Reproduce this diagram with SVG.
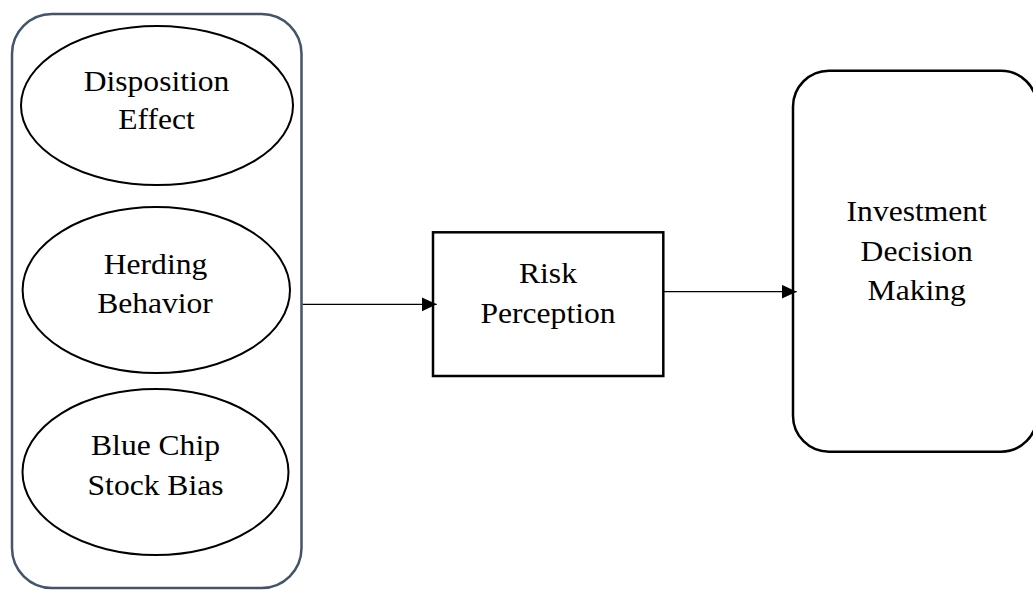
<svg xmlns="http://www.w3.org/2000/svg" width="1033" height="590" viewBox="0 0 1033 590">
<defs>
<style>
.lbl{font-family:"Liberation Serif","Times New Roman",serif;font-size:28.7px;fill:#000;text-anchor:middle}
.ell{fill:#fff;stroke:#000;stroke-width:2}
.box{fill:#fff;stroke:#000;stroke-width:2.5}
.grp{fill:#fff;stroke:#44546a;stroke-width:2.5}
.conn{stroke:#000;stroke-width:1.2;fill:none}
</style>
<marker id="arr" markerUnits="userSpaceOnUse" markerWidth="16" markerHeight="16" refX="15" refY="7" orient="auto">
<path d="M0,0 L15,7 L0,14 Z" fill="#000"/>
</marker>
</defs>
<rect width="1033" height="590" fill="#fff"/>
<g id="biases">
<rect class="grp" x="12" y="14" width="289.5" height="574" rx="40" ry="40"/>
</g>
<g id="disposition-effect">
<ellipse class="ell" cx="157" cy="105.5" rx="136" ry="79.5"/>
<text class="lbl" transform="matrix(1.1 0 0 1 156.5 90.7)">Disposition</text>
<text class="lbl" transform="matrix(1.1 0 0 1 156.5 129)">Effect</text>
</g>
<g id="herding-behavior">
<ellipse class="ell" cx="156.3" cy="290" rx="133.7" ry="83"/>
<text class="lbl" transform="matrix(1.1 0 0 1 155.5 274)">Herding</text>
<text class="lbl" transform="matrix(1.1 0 0 1 155 312.7)">Behavior</text>
</g>
<g id="blue-chip-stock-bias">
<ellipse class="ell" cx="155.5" cy="472" rx="133" ry="83"/>
<text class="lbl" transform="matrix(1.1 0 0 1 155.5 455)">Blue Chip</text>
<text class="lbl" transform="matrix(1.1 0 0 1 155.5 495)">Stock Bias</text>
</g>
<g id="risk-perception">
<rect class="box" x="433" y="232.3" width="230.3" height="143.7"/>
<text class="lbl" transform="matrix(1.1 0 0 1 548 283.3)">Risk</text>
<text class="lbl" transform="matrix(1.1 0 0 1 548 323.3)">Perception</text>
</g>
<g id="investment-decision-making">
<rect class="box" x="793" y="70.7" width="244" height="381" rx="36" ry="36"/>
<text class="lbl" transform="matrix(1.1 0 0 1 916.7 220.7)">Investment</text>
<text class="lbl" transform="matrix(1.1 0 0 1 916.7 260.7)">Decision</text>
<text class="lbl" transform="matrix(1.1 0 0 1 916.7 300)">Making</text>
</g>
<g id="connectors">
<line class="conn" x1="302.7" y1="304.3" x2="436.7" y2="304.3" marker-end="url(#arr)"/>
<line class="conn" x1="663.3" y1="291.7" x2="796.7" y2="291.7" marker-end="url(#arr)"/>
</g>
</svg>
